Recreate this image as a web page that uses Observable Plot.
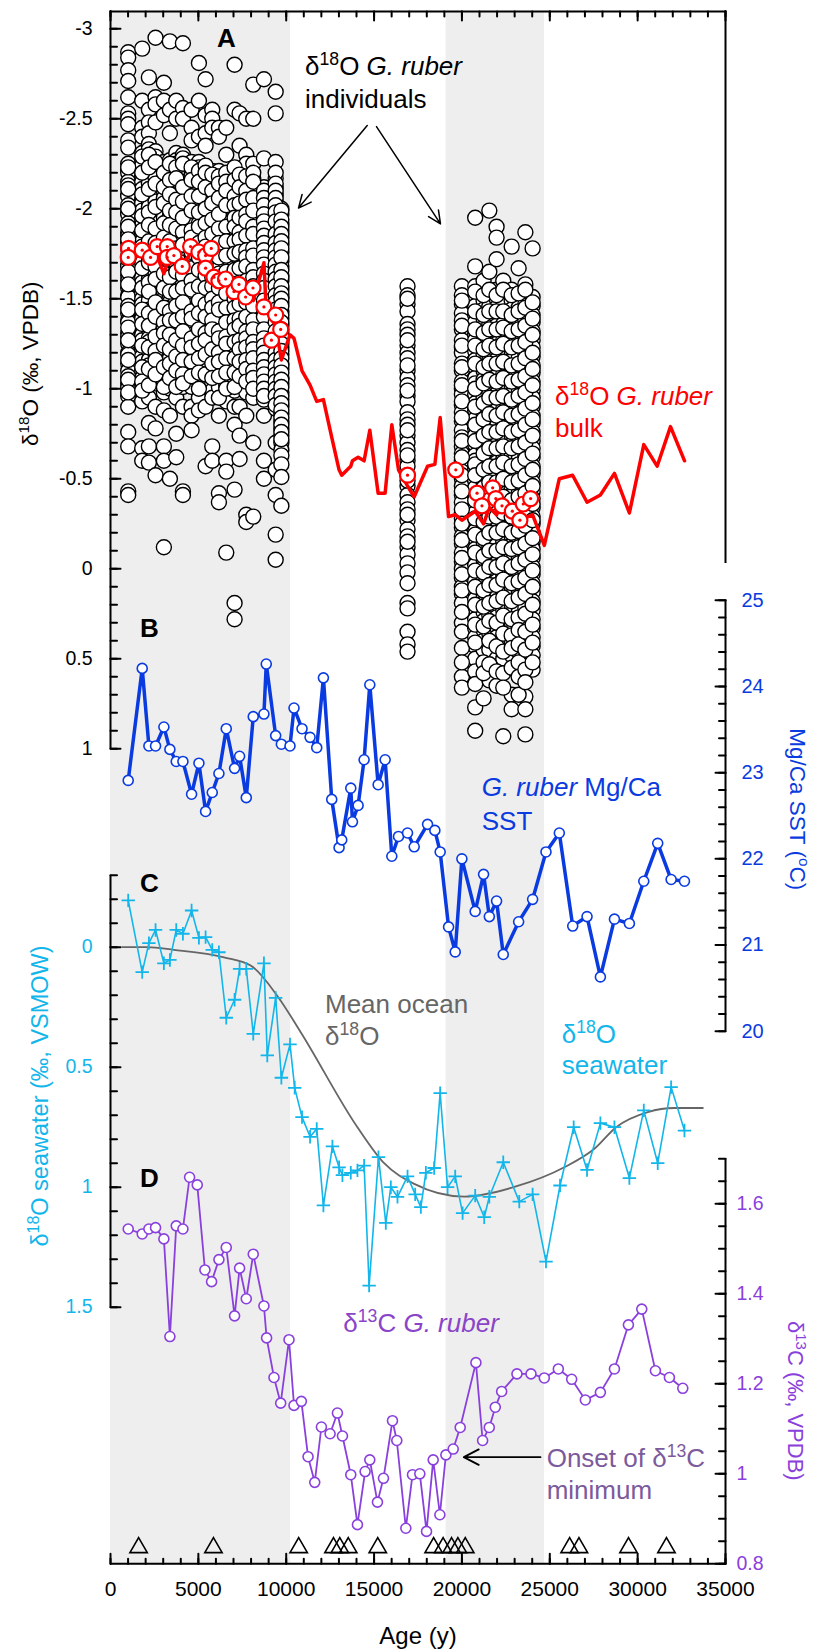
<!DOCTYPE html>
<html><head><meta charset="utf-8">
<script src="https://cdn.jsdelivr.net/npm/d3@7"></script>
<script src="https://cdn.jsdelivr.net/npm/@observablehq/plot@0.6"></script>
<style>
body{margin:0;background:#fff;}
#wrap{position:relative;width:816px;height:1652px;}
#wrap svg{position:absolute;left:0;top:0;overflow:visible;}
</style></head><body><div id="wrap"></div>
<script>
// ---------------- DATA ----------------
const shadeStart = [0, 19100];
const shadeEnd   = [10250, 24700];

const xTicks = [0, 5000, 10000, 15000, 20000, 25000, 30000, 35000];

// Panel A: bulk G. ruber d18O (red line)
const bulkAge = [1008,1805,2185,2564,3038,3380,3742,4121,4615,5032,5412,5791,6170,6588,7062,7347,7727,8124,8732,8865,9400,9724,10216,10444,10900,11357,11737,12117,12591,13008,13160,13674,13770,14091,14433,14757,15231,15630,16010,16391,16904,17284,18044,18460,18762,19240,19618,19998,20755,21232,21559,21972,22352,23227,24023,24690,25540,26300,27120,27880,28680,29530,30350,31110,31870,32670];
const bulkVal = [-1.73,-1.74,-1.72,-1.76,-1.64,-1.74,-1.72,-1.69,-1.76,-1.74,-1.66,-1.62,-1.60,-1.58,-1.55,-1.57,-1.52,-1.49,-1.70,-1.43,-1.35,-1.16,-1.30,-1.28,-1.10,-1.02,-0.93,-0.94,-0.73,-0.55,-0.52,-0.57,-0.60,-0.62,-0.60,-0.77,-0.42,-0.42,-0.80,-0.55,-0.46,-0.40,-0.57,-0.58,-0.84,-0.29,-0.30,-0.27,-0.32,-0.25,-0.34,-0.30,-0.37,-0.27,-0.30,-0.13,-0.50,-0.52,-0.37,-0.41,-0.53,-0.31,-0.69,-0.57,-0.79,-0.60];

// Panel A: mean of individuals (red open circles)
const meanAge = [1026,1008,1805,2279,2659,3228,3228,3608,4083,4558,5032,5412,5735,5412,5886,6170,6550,7025,7310,7689,8110,8732,9160,9400,9686,16904,19650,20860,21140,21750,21930,22280,22870,23300,23490,23910];
const meanVal = [-1.78,-1.73,-1.77,-1.73,-1.79,-1.79,-1.73,-1.74,-1.68,-1.79,-1.76,-1.74,-1.78,-1.67,-1.62,-1.60,-1.61,-1.54,-1.58,-1.51,-1.56,-1.455,-1.27,-1.41,-1.33,-0.52,-0.55,-0.42,-0.35,-0.45,-0.39,-0.35,-0.32,-0.27,-0.36,-0.39];

// Panel A: individual G. ruber d18O, values per sample age (two picking passes)
const indivAge = [1008,1805,2185,2564,3038,3380,3742,4121,4615,5032,5412,5791,6170,6588,7062,7347,7727,8124,8732,9400,9724,16904,19998,20755,21232,21559,21972,22352,22830,23227,23610,24023];
const indivVals = [
"-2.87 -2.84 -2.77 -2.71 -2.62 -2.53 -2.5 -2.47 -2.38 -2.34 -2.25 -2.22 -2.2 -2.15 -2.13 -2.08 -2.07 -2.02 -1.98 -1.97 -1.92 -1.87 -1.85 -1.81 -1.78 -1.74 -1.69 -1.68 -1.63 -1.6 -1.56 -1.52 -1.51 -1.46 -1.42 -1.38 -1.37 -1.31 -1.29 -1.25 -1.2 -1.19 -1.14 -1.1 -1.07 -1.03 -1.01 -0.96 -0.9 -0.76 -0.68 -0.43 -0.41",
"-2.89 -2.6 -2.45 -2.4 -2.31 -2.27 -2.24 -2.18 -2.15 -2.11 -2.05 -2.03 -1.99 -1.93 -1.91 -1.86 -1.82 -1.77 -1.75 -1.7 -1.65 -1.62 -1.59 -1.53 -1.5 -1.47 -1.41 -1.39 -1.34 -1.3 -1.27 -1.22 -1.18 -1.15 -1.1 -1.06 -1.02 -0.97 -0.93 -0.67 -0.6",
"-2.73 -2.55 -2.48 -2.42 -2.36 -2.33 -2.28 -2.26 -2.2 -2.16 -2.14 -2.09 -2.04 -2.01 -1.96 -1.94 -1.88 -1.84 -1.8 -1.77 -1.73 -1.67 -1.64 -1.61 -1.57 -1.52 -1.49 -1.44 -1.4 -1.37 -1.33 -1.28 -1.26 -1.21 -1.16 -1.13 -1.09 -1.05 -0.95 -0.81 -0.68 -0.59",
"-2.95 -2.62 -2.58 -2.48 -2.32 -2.29 -2.23 -2.19 -2.17 -2.11 -2.07 -2.04 -1.98 -1.95 -1.92 -1.86 -1.83 -1.79 -1.74 -1.71 -1.66 -1.64 -1.58 -1.55 -1.51 -1.46 -1.43 -1.38 -1.35 -1.32 -1.26 -1.23 -1.19 -1.14 -1.11 -1.06 -1.03 -0.9 -0.78 -0.52",
"-2.7 -2.6 -2.52 -2.26 -2.23 -2.18 -2.14 -2.1 -2.06 -2.01 -1.97 -1.95 -1.9 -1.86 -1.82 -1.79 -1.73 -1.7 -1.67 -1.61 -1.58 -1.54 -1.5 -1.47 -1.42 -1.39 -1.34 -1.29 -1.27 -1.22 -1.19 -1.15 -1.1 -1.06 -1.03 -0.98 -0.88 -0.68 -0.6 -0.12",
"-2.93 -2.55 -2.42 -2.27 -2.22 -2.19 -2.13 -2.1 -2.05 -2.02 -1.96 -1.93 -1.89 -1.85 -1.8 -1.78 -1.72 -1.69 -1.65 -1.6 -1.57 -1.52 -1.48 -1.45 -1.41 -1.36 -1.33 -1.28 -1.25 -1.2 -1.17 -1.12 -1.09 -1.04 -1 -0.85 -0.5",
"-2.6 -2.5 -2.31 -2.27 -2.25 -2.2 -2.15 -2.12 -2.08 -2.03 -2 -1.96 -1.92 -1.87 -1.83 -1.81 -1.75 -1.72 -1.68 -1.63 -1.6 -1.56 -1.52 -1.49 -1.43 -1.4 -1.36 -1.32 -1.29 -1.24 -1.21 -1.16 -1.12 -1.08 -1.04 -0.95 -0.75 -0.62",
"-2.92 -2.56 -2.5 -2.3 -2.28 -2.22 -2.18 -2.15 -2.1 -2.06 -2.01 -1.98 -1.93 -1.9 -1.85 -1.82 -1.78 -1.73 -1.7 -1.66 -1.61 -1.58 -1.53 -1.51 -1.46 -1.42 -1.38 -1.34 -1.3 -1.26 -1.22 -1.18 -1.14 -1.1 -1.06 -1.01 -0.9 -0.43 -0.41",
"-2.55 -2.45 -2.38 -2.26 -2.21 -2.18 -2.14 -2.09 -2.05 -2.02 -1.97 -1.93 -1.91 -1.86 -1.81 -1.78 -1.74 -1.7 -1.65 -1.62 -1.58 -1.53 -1.5 -1.46 -1.41 -1.37 -1.33 -1.3 -1.25 -1.21 -1.18 -1.13 -1.09 -1.05 -1.01 -0.9 -0.85 -0.77",
"-2.81 -2.6 -2.4 -2.26 -2.23 -2.17 -2.13 -2.1 -2.04 -2 -1.96 -1.92 -1.88 -1.83 -1.79 -1.76 -1.71 -1.68 -1.64 -1.59 -1.55 -1.51 -1.47 -1.44 -1.39 -1.35 -1.31 -1.27 -1.23 -1.19 -1.15 -1.11 -1.07 -1.04 -0.95 -0.88",
"-2.72 -2.52 -2.42 -2.35 -2.22 -2.18 -2.15 -2.09 -2.06 -2.03 -1.97 -1.94 -1.9 -1.86 -1.82 -1.77 -1.73 -1.7 -1.65 -1.61 -1.58 -1.54 -1.49 -1.45 -1.42 -1.37 -1.34 -1.29 -1.25 -1.22 -1.17 -1.13 -1.1 -1.05 -1.01 -0.9 -0.57",
"-2.55 -2.5 -2.45 -2.21 -2.17 -2.14 -2.08 -2.05 -2 -1.96 -1.92 -1.89 -1.83 -1.8 -1.76 -1.72 -1.67 -1.64 -1.6 -1.55 -1.52 -1.48 -1.43 -1.4 -1.36 -1.31 -1.28 -1.24 -1.19 -1.16 -1.11 -1.08 -1.03 -0.99 -0.95 -0.68 -0.6",
"-2.45 -2.4 -2.21 -2.16 -2.12 -2.08 -2.04 -1.99 -1.95 -1.91 -1.86 -1.83 -1.78 -1.75 -1.7 -1.67 -1.62 -1.58 -1.54 -1.5 -1.46 -1.42 -1.37 -1.34 -1.3 -1.26 -1.21 -1.18 -1.13 -1.1 -1.05 -1.01 -0.85 -0.42 -0.37",
"-2.45 -2.3 -2.17 -2.13 -2.08 -2.04 -2.01 -1.95 -1.92 -1.87 -1.84 -1.8 -1.76 -1.71 -1.68 -1.63 -1.59 -1.56 -1.51 -1.47 -1.44 -1.39 -1.35 -1.31 -1.27 -1.23 -1.19 -1.15 -1.11 -1.06 -1.02 -0.98 -0.93 -0.6 -0.54 -0.09",
"-2.8 -2.55 -2.21 -2.18 -2.13 -2.09 -2.05 -2 -1.97 -1.92 -1.88 -1.85 -1.8 -1.77 -1.72 -1.68 -1.64 -1.6 -1.56 -1.52 -1.48 -1.43 -1.4 -1.36 -1.31 -1.28 -1.24 -1.19 -1.15 -1.12 -1.07 -1.03 -0.99 -0.9 -0.8 -0.44 0.19 0.28",
"-2.53 -2.35 -2.22 -2.17 -2.14 -2.1 -2.05 -2.01 -1.98 -1.93 -1.89 -1.85 -1.81 -1.78 -1.73 -1.69 -1.65 -1.61 -1.57 -1.53 -1.49 -1.45 -1.41 -1.37 -1.33 -1.29 -1.25 -1.2 -1.17 -1.13 -1.09 -1.05 -0.9 -0.74 -0.61",
"-2.5 -2.3 -2.25 -2.16 -2.12 -2.08 -2.03 -2 -1.95 -1.91 -1.87 -1.83 -1.79 -1.75 -1.71 -1.66 -1.63 -1.58 -1.55 -1.5 -1.46 -1.42 -1.38 -1.34 -1.3 -1.26 -1.21 -1.18 -1.14 -1.09 -1.06 -1.01 -0.98 -0.85 -0.3 -0.26",
"-2.69 -2.5 -2.25 -2.17 -2.13 -2.09 -2.04 -2.01 -1.96 -1.93 -1.88 -1.84 -1.8 -1.76 -1.72 -1.68 -1.64 -1.6 -1.55 -1.52 -1.48 -1.44 -1.4 -1.36 -1.31 -1.28 -1.24 -1.2 -1.15 -1.12 -1.08 -1.04 -0.95 -0.7 -0.29",
"-2.72 -2.28 -2.12 -2.08 -2.04 -2 -1.95 -1.91 -1.87 -1.83 -1.79 -1.75 -1.71 -1.67 -1.62 -1.59 -1.54 -1.51 -1.46 -1.42 -1.38 -1.35 -1.3 -1.26 -1.22 -1.18 -1.14 -1.1 -1.06 -1.02 -0.98 -0.94 -0.85 -0.6 -0.5",
"-2.65 -2.53 -2.26 -2.17 -2.12 -2.08 -2.04 -2 -1.96 -1.91 -1.88 -1.83 -1.79 -1.75 -1.71 -1.67 -1.63 -1.59 -1.54 -1.5 -1.47 -1.42 -1.39 -1.34 -1.3 -1.27 -1.22 -1.18 -1.14 -1.1 -1.06 -1.02 -0.98 -0.94 -0.89 -0.7 -0.55 -0.41 -0.19 -0.05",
"-2 -1.97 -1.92 -1.88 -1.84 -1.8 -1.76 -1.71 -1.68 -1.63 -1.6 -1.55 -1.51 -1.48 -1.43 -1.39 -1.35 -1.31 -1.27 -1.23 -1.19 -1.14 -1.11 -1.06 -1.03 -0.98 -0.94 -0.9 -0.86 -0.82 -0.78 -0.74 -0.7 -0.66 -0.63 -0.58 -0.51 -0.35",
"-1.57 -1.52 -1.47 -1.43 -1.36 -1.33 -1.3 -1.24 -1.2 -1.17 -1.1 -1.06 -1.02 -0.96 -0.93 -0.87 -0.83 -0.8 -0.74 -0.7 -0.66 -0.6 -0.57 -0.52 -0.46 -0.41 -0.37 -0.33 -0.27 -0.22 -0.18 -0.12 -0.08 -0.03 0.02 0.08 0.19 0.22 0.35 0.42 0.46",
"-1.57 -1.52 -1.47 -1.42 -1.38 -1.33 -1.27 -1.23 -1.2 -1.14 -1.1 -1.04 -1 -0.97 -0.91 -0.87 -0.82 -0.77 -0.73 -0.68 -0.64 -0.6 -0.54 -0.5 -0.46 -0.41 -0.37 -0.31 -0.28 -0.23 -0.18 -0.14 -0.09 -0.04 0 0.05 0.1 0.14 0.19 0.3 0.35 0.6 0.66",
"-1.95 -1.68 -1.57 -1.51 -1.46 -1.41 -1.37 -1.3 -1.27 -1.21 -1.16 -1.12 -1.06 -1.03 -0.97 -0.92 -0.88 -0.83 -0.78 -0.74 -0.69 -0.63 -0.6 -0.55 -0.49 -0.45 -0.41 -0.35 -0.31 -0.26 -0.21 -0.17 -0.11 -0.07 -0.02 0.03 0.07 0.13 0.17 0.22 0.28 0.33 0.38 0.43 0.5 0.77 0.9",
"-1.6 -1.49 -1.44 -1.39 -1.34 -1.29 -1.25 -1.19 -1.14 -1.1 -1.05 -1.01 -0.95 -0.9 -0.86 -0.81 -0.76 -0.72 -0.67 -0.61 -0.58 -0.52 -0.48 -0.43 -0.39 -0.33 -0.29 -0.24 -0.19 -0.15 -0.1 -0.05 -0.01 0.05 0.09 0.14 0.19 0.24 0.29 0.34 0.4 0.45 0.72",
"-1.99 -1.65 -1.5 -1.46 -1.4 -1.36 -1.31 -1.26 -1.22 -1.16 -1.12 -1.07 -1.02 -0.98 -0.92 -0.88 -0.84 -0.78 -0.74 -0.69 -0.64 -0.6 -0.55 -0.5 -0.46 -0.4 -0.36 -0.32 -0.26 -0.22 -0.17 -0.12 -0.08 -0.03 0.02 0.06 0.12 0.16 0.21 0.26 0.31 0.36 0.45 0.62",
"-1.9 -1.84 -1.72 -1.55 -1.5 -1.45 -1.4 -1.35 -1.31 -1.25 -1.21 -1.16 -1.11 -1.07 -1.02 -0.97 -0.93 -0.88 -0.83 -0.79 -0.73 -0.69 -0.65 -0.59 -0.55 -0.51 -0.45 -0.41 -0.37 -0.31 -0.27 -0.22 -0.17 -0.13 -0.08 -0.03 0.01 0.07 0.11 0.16 0.21 0.27 0.32 0.38 0.5 0.65",
"-1.6 -1.51 -1.46 -1.41 -1.36 -1.32 -1.27 -1.22 -1.17 -1.13 -1.08 -1.03 -0.99 -0.94 -0.89 -0.85 -0.8 -0.75 -0.71 -0.66 -0.61 -0.57 -0.52 -0.47 -0.43 -0.38 -0.34 -0.29 -0.24 -0.2 -0.15 -0.1 -0.06 -0.01 0.04 0.08 0.13 0.18 0.23 0.28 0.33 0.38 0.43 0.5 0.93",
"-1.79 -1.55 -1.49 -1.44 -1.39 -1.35 -1.3 -1.25 -1.21 -1.16 -1.11 -1.06 -1.02 -0.97 -0.92 -0.87 -0.83 -0.78 -0.74 -0.69 -0.64 -0.59 -0.55 -0.5 -0.45 -0.41 -0.36 -0.31 -0.27 -0.22 -0.18 -0.13 -0.08 -0.04 0.01 0.06 0.1 0.15 0.2 0.25 0.3 0.35 0.4 0.48 0.7 0.78",
"-1.67 -1.5 -1.45 -1.41 -1.36 -1.31 -1.26 -1.22 -1.17 -1.12 -1.08 -1.03 -0.98 -0.94 -0.89 -0.84 -0.8 -0.75 -0.7 -0.66 -0.61 -0.56 -0.52 -0.47 -0.42 -0.38 -0.33 -0.28 -0.24 -0.19 -0.14 -0.1 -0.05 0 0.04 0.09 0.14 0.19 0.24 0.3 0.38 0.46",
"-1.87 -1.58 -1.52 -1.47 -1.42 -1.38 -1.33 -1.28 -1.24 -1.19 -1.14 -1.1 -1.05 -1 -0.96 -0.91 -0.86 -0.82 -0.77 -0.72 -0.68 -0.63 -0.58 -0.54 -0.49 -0.44 -0.4 -0.35 -0.3 -0.26 -0.21 -0.16 -0.12 -0.07 -0.02 0.02 0.07 0.12 0.17 0.22 0.27 0.32 0.37 0.42 0.5 0.71 0.78 0.92",
"-1.78 -1.51 -1.46 -1.41 -1.37 -1.32 -1.27 -1.23 -1.18 -1.13 -1.09 -1.04 -0.99 -0.95 -0.9 -0.85 -0.81 -0.76 -0.71 -0.67 -0.62 -0.57 -0.53 -0.48 -0.43 -0.39 -0.34 -0.29 -0.25 -0.2 -0.15 -0.11 -0.06 -0.01 0.03 0.08 0.13 0.18 0.23 0.28 0.33 0.38 0.43 0.48 0.56"
];
const indivValsMore = [
"-2.23 -2.11 -2.0 -1.9 -1.83 -1.72 -1.65 -1.58 -1.44 -1.34 -1.27 -1.16 -1.05 -0.98",
"-2.29 -2.2 -2.08 -1.96 -1.88 -1.79 -1.67 -1.56 -1.44 -1.36 -1.24 -1.12 -1.04 -0.99",
"-2.3 -2.23 -2.11 -1.98 -1.91 -1.82 -1.7 -1.59 -1.54 -1.42 -1.35 -1.23 -1.11 -1.02",
"-2.26 -2.14 -2.01 -1.89 -1.81 -1.76 -1.68 -1.61 -1.48 -1.4 -1.29 -1.21 -1.16 -1.08",
"-2.2 -2.12 -2.03 -1.92 -1.84 -1.76 -1.64 -1.56 -1.45 -1.37 -1.31 -1.24 -1.12 -1.01",
"-2.25 -2.16 -2.08 -1.99 -1.91 -1.82 -1.75 -1.62 -1.54 -1.43 -1.38 -1.3 -1.22 -1.14 -1.06",
"-2.23 -2.17 -2.05 -1.98 -1.89 -1.78 -1.7 -1.65 -1.54 -1.46 -1.38 -1.27 -1.18 -1.1 -1.01",
"-2.25 -2.12 -2.04 -1.95 -1.87 -1.8 -1.68 -1.63 -1.56 -1.48 -1.4 -1.32 -1.24 -1.16 -1.08 -1.03",
"-2.23 -2.16 -2.07 -1.99 -1.88 -1.84 -1.76 -1.67 -1.6 -1.55 -1.43 -1.39 -1.28 -1.23 -1.15 -1.07",
"-2.21 -2.15 -2.07 -1.98 -1.9 -1.81 -1.73 -1.66 -1.57 -1.49 -1.42 -1.33 -1.25 -1.17 -1.09 -1.0",
"-2.24 -2.2 -2.12 -2.0 -1.92 -1.84 -1.79 -1.68 -1.63 -1.56 -1.47 -1.4 -1.31 -1.27 -1.19 -1.08",
"-2.19 -2.1 -2.03 -1.94 -1.86 -1.78 -1.74 -1.62 -1.57 -1.5 -1.45 -1.38 -1.33 -1.22 -1.14 -1.06",
"-2.18 -2.14 -2.06 -1.97 -1.89 -1.81 -1.73 -1.64 -1.56 -1.48 -1.44 -1.32 -1.28 -1.2 -1.15 -1.07 -0.95",
"-2.2 -2.15 -2.1 -2.02 -1.9 -1.82 -1.74 -1.65 -1.61 -1.53 -1.45 -1.37 -1.29 -1.25 -1.17 -1.09 -1.0",
"-2.23 -2.16 -2.07 -2.02 -1.95 -1.9 -1.82 -1.75 -1.66 -1.58 -1.5 -1.45 -1.38 -1.33 -1.26 -1.17 -1.09 -1.01",
"-2.19 -2.12 -2.03 -1.95 -1.87 -1.83 -1.76 -1.67 -1.59 -1.55 -1.47 -1.39 -1.35 -1.27 -1.22 -1.15 -1.07",
"-2.18 -2.1 -2.05 -1.97 -1.93 -1.85 -1.77 -1.73 -1.68 -1.6 -1.52 -1.48 -1.4 -1.32 -1.28 -1.23 -1.16 -1.11 -1.04",
"-2.2 -2.15 -2.06 -1.99 -1.9 -1.86 -1.78 -1.74 -1.66 -1.62 -1.57 -1.5 -1.46 -1.38 -1.33 -1.26 -1.22 -1.17 -1.1 -1.06 -1.0",
"-2.1 -2.06 -2.02 -1.97 -1.93 -1.89 -1.85 -1.81 -1.77 -1.73 -1.69 -1.64 -1.6 -1.56 -1.49 -1.44 -1.4 -1.33 -1.28 -1.24 -1.2 -1.16 -1.12 -1.08 -1.04 -1.0 -0.96",
"-2.2 -2.14 -2.1 -2.06 -2.02 -1.98 -1.93 -1.86 -1.81 -1.77 -1.73 -1.69 -1.65 -1.61 -1.57 -1.52 -1.48 -1.44 -1.37 -1.32 -1.25 -1.2 -1.16 -1.12 -1.08 -1.04 -1.0 -0.96 -0.91",
"-1.99 -1.94 -1.9 -1.86 -1.82 -1.78 -1.73 -1.66 -1.62 -1.57 -1.53 -1.5 -1.46 -1.41 -1.37 -1.33 -1.29 -1.25 -1.21 -1.17 -1.13 -1.09 -1.05 -1.01 -0.96 -0.92 -0.88 -0.84 -0.8 -0.76 -0.72",
"-1.5 -1.27 -1.13 -0.99 -0.77 -0.63 -0.49 -0.3 -0.15",
"-1.49 -1.35 -1.24 -1.12 -1.02 -0.93 -0.84 -0.71 -0.62 -0.52 -0.43 -0.33 -0.25 -0.16 -0.06 0.03 0.12 0.24 0.44 0.52",
"-1.54 -1.43 -1.33 -1.24 -1.14 -1.0 -0.9 -0.8 -0.71 -0.58 -0.52 -0.38 -0.28 -0.19 -0.09 0.01 0.1 0.2 0.31 0.41 0.57 0.64",
"-1.52 -1.41 -1.31 -1.22 -1.12 -1.03 -0.92 -0.83 -0.74 -0.64 -0.55 -0.45 -0.36 -0.26 -0.17 -0.07 0.02 0.12 0.21 0.32 0.52 0.58",
"-1.55 -1.43 -1.33 -1.24 -1.14 -1.05 -0.95 -0.86 -0.76 -0.67 -0.57 -0.48 -0.38 -0.29 -0.2 -0.1 -0.01 0.09 0.19 0.29 0.4 0.53",
"-1.52 -1.43 -1.33 -1.23 -1.14 -1.04 -0.95 -0.85 -0.76 -0.67 -0.57 -0.48 -0.39 -0.29 -0.2 -0.1 -0.01 0.09 0.18 0.3 0.43 0.57",
"-1.55 -1.43 -1.34 -1.25 -1.15 -1.06 -0.96 -0.87 -0.78 -0.68 -0.59 -0.5 -0.4 -0.31 -0.22 -0.12 -0.03 0.06 0.16 0.26 0.36 0.46 0.58 0.66",
"-1.52 -1.41 -1.32 -1.23 -1.13 -1.04 -0.94 -0.85 -0.76 -0.67 -0.57 -0.48 -0.38 -0.29 -0.2 -0.11 -0.01 0.08 0.18 0.28 0.37 0.44 0.55",
"-1.53 -1.43 -1.33 -1.24 -1.14 -1.05 -0.96 -0.86 -0.77 -0.68 -0.58 -0.49 -0.4 -0.31 -0.21 -0.12 -0.03 0.07 0.16 0.27 0.34 0.42 0.52 0.6 0.7",
"-1.55 -1.45 -1.35 -1.26 -1.17 -1.07 -0.98 -0.89 -0.8 -0.7 -0.61 -0.52 -0.42 -0.33 -0.24 -0.14 -0.05 0.05 0.14 0.25 0.35 0.45 0.56 0.63",
"-1.48 -1.39 -1.3 -1.2 -1.11 -1.02 -0.92 -0.83 -0.74 -0.64 -0.55 -0.46 -0.36 -0.27 -0.17 -0.08 0.01 0.1 0.2 0.31 0.41 0.52"
];

// Panel B: Mg/Ca SST (deg C)
const sstAge = [1008,1805,2185,2564,3038,3380,3742,4121,4615,5032,5412,5791,6170,6588,7062,7347,7727,8124,8732,8865,9400,9724,10216,10444,10900,11357,11737,12117,12591,13008,13160,13674,13770,14091,14433,14757,15231,15630,16010,16391,16904,17284,18044,18460,18762,19240,19618,19998,20755,21232,21559,21972,22352,23227,24023,24784,25543,26305,27120,27880,28680,29530,30349,31143,31906,32665];
const sstVal = [22.91,24.21,23.31,23.31,23.53,23.27,23.13,23.13,22.75,23.11,22.55,22.77,22.99,23.51,23.05,23.19,22.71,23.65,23.68,24.26,23.43,23.33,23.31,23.75,23.51,23.41,23.29,24.10,22.69,22.13,22.22,22.82,22.43,22.62,23.15,24.02,22.86,23.15,22.03,22.26,22.30,22.14,22.40,22.33,22.08,21.21,20.92,22.00,21.39,21.82,21.33,21.51,20.89,21.27,21.53,22.08,22.30,21.22,21.33,20.63,21.30,21.25,21.74,22.18,21.76,21.74];

// Panel C: seawater d18O (cyan) and mean ocean d18O (grey)
const swAge = [1008,1805,2185,2564,3038,3380,3742,4121,4615,5032,5412,5791,6170,6588,7062,7347,7727,8124,8732,8922,9400,9724,10216,10482,10900,11357,11737,12117,12630,13008,13200,13674,14054,14433,14719,15250,15668,15953,16333,16904,17340,17662,17947,18420,18760,19183,19618,20038,20755,21270,21559,22352,23264,24023,24784,25583,26360,27120,27880,28680,29530,30349,31143,31906,32665];
const swVal = [-0.195,0.104,-0.017,-0.072,0.067,0.053,-0.072,-0.056,-0.153,-0.039,-0.042,0.011,0.021,0.294,0.219,0.090,0.090,0.361,0.067,0.451,0.211,0.544,0.405,0.586,0.708,0.79,0.757,1.076,0.83,0.917,0.95,0.94,0.93,0.91,1.41,0.875,1.149,1.0,1.04,0.955,1.03,1.083,0.94,0.92,0.608,1.0,0.955,1.108,1.035,1.125,1.04,0.896,1.06,1.03,1.31,0.993,0.75,0.928,0.733,0.75,0.962,0.68,0.90,0.583,0.764];
const meanOceanAge = [665,2090,3608,6456,7976,9497,10825,14054,15573,17284,20129,23075,25827,27538,28775,30577,32096,33712];
const meanOceanVal = [0,0,0.011,0.042,0.076,0.203,0.354,0.75,0.90,0.986,1.039,0.997,0.917,0.84,0.75,0.687,0.67,0.67];

// Panel D: d13C G. ruber
const d13Age = [1008,1805,2185,2564,3038,3380,3742,4121,4501,4938,5374,5753,6170,6588,7062,7347,7727,8124,8732,8884,9305,9685,10159,10444,10863,11243,11623,12003,12497,12914,13200,13674,14054,14490,14757,15193,15535,16048,16293,16808,17187,17604,17985,18365,18745,19087,19504,19902,20796,21178,21556,21898,22261,23132,23930,24689,25486,26246,27024,27880,28680,29475,30235,31011,31808,32569];
const d13Val = [1.544,1.533,1.544,1.547,1.522,1.305,1.551,1.544,1.659,1.642,1.453,1.427,1.476,1.503,1.351,1.457,1.389,1.488,1.373,1.302,1.214,1.157,1.298,1.152,1.161,1.038,0.981,1.104,1.089,1.135,1.084,0.998,0.887,1.005,1.031,0.937,0.99,1.118,1.074,0.879,0.998,1.0,0.872,1.031,0.909,1.042,1.055,1.103,1.247,1.074,1.103,1.148,1.183,1.222,1.222,1.213,1.233,1.21,1.164,1.181,1.233,1.331,1.366,1.229,1.214,1.19];

// Age control points (triangles)
const datingAge = [1600,5860,10710,12690,13050,13530,15210,18390,18930,19410,19770,20190,26130,26660,29480,31640];

// ---------------- DRAWING ----------------
const FONT = "'Liberation Sans', Arial, Helvetica, sans-serif";
const BLUE = "#0a3be0", CYAN = "#12b6ea", PURPLE = "#8a40dc", GREY = "#666666", RED = "#ff0000";
const wrap = document.getElementById("wrap");

function layer(yDomain, yRange, marks) {
  const p = Plot.plot({
    width: 816, height: 1652, marginLeft: 110, marginRight: 91, marginTop: 0, marginBottom: 0,
    style: {background: "transparent", overflow: "visible", fontFamily: FONT},
    x: {domain: [0, 35000], axis: null},
    y: {domain: yDomain, range: yRange, axis: null},
    marks
  });
  wrap.appendChild(p);
  return p;
}
const tickShape = {draw(ctx, l) { ctx.moveTo(0, 0); ctx.lineTo(0, -l); }};
function vTicks(vals, xv, rot, len) {
  return Plot.vector(vals, {x: xv, y: d => d, rotate: rot, length: len, anchor: "start", shape: tickShape, stroke: "black", strokeWidth: 2});
}
function hTicks(vals, yv, rot, len) {
  return Plot.vector(vals, {x: d => d, y: yv, rotate: rot, length: len, anchor: "start", shape: tickShape, stroke: "black", strokeWidth: 2});
}
const rng = (a, b, s) => d3.range(Math.round((b - a) / s) + 1).map(i => +(a + i * s).toFixed(4));

function rich(plot, {x, y, px, py, parts, size, fill = "black", anchor = "start", weight = null, rotate = 0}) {
  const X = px ?? plot.scale("x").apply(x);
  const Y = py ?? plot.scale("y").apply(y);
  const t = d3.select(plot).append("text")
    .attr("x", X).attr("y", Y).attr("font-size", size).attr("fill", fill)
    .attr("font-family", FONT).attr("text-anchor", anchor);
  if (weight) t.attr("font-weight", weight);
  if (rotate) t.attr("transform", `rotate(${rotate},${X},${Y})`);
  let up = false;
  for (const p of parts) {
    const [s, kind] = Array.isArray(p) ? p : [p, ""];
    const ts = t.append("tspan").text(s);
    if (kind === "sup") { ts.attr("font-size", size * 0.68).attr("dy", -size * 0.38); up = true; }
    else {
      if (up) { ts.attr("dy", size * 0.38); up = false; }
      if (kind === "it") ts.attr("font-style", "italic");
    }
  }
  return t;
}

// background layer: shading, age axes
const bands = shadeStart.map((s, i) => ({x1: s, x2: shadeEnd[i]}));
const bg = layer([0, 1], [1563.3, 11], [
  Plot.rect(bands, {x1: "x1", x2: "x2", y1: 0, y2: 1, fill: "#eeeeee"}),
  Plot.ruleY([1], {x1: 0, x2: 35000, stroke: "black", strokeWidth: 2}),
  Plot.ruleY([0], {x1: 0, x2: 35000, stroke: "black", strokeWidth: 2}),
  hTicks(rng(0, 35000, 1000), 1, 180, 5),
  hTicks(xTicks, 1, 180, 9),
  hTicks(rng(0, 35000, 1000), 0, 0, 5),
  hTicks(xTicks, 0, 0, 10),
  Plot.text(xTicks, {x: d => d, y: 0, text: d => String(d), dy: 32, lineAnchor: "bottom", textAnchor: "middle", fontSize: 21, fontFamily: FONT, fill: "black"}),
  Plot.text(["Age (y)"], {x: 17500, y: 0, dy: 80, lineAnchor: "bottom", textAnchor: "middle", fontSize: 24, fontFamily: FONT, fill: "black"})
]);

// Panel A
const toPts = (arr) => indivAge.flatMap((a, i) => arr[i].split(" ").map(Number).map(v => ({age: a, v})));
const indiv = toPts(indivVals).concat(toPts(indivValsMore));
const bulk = bulkAge.map((a, i) => ({age: a, v: bulkVal[i]}));
const means = meanAge.map((a, i) => ({age: a, v: meanVal[i]}));
const aMajor = [-3, -2.5, -2, -1.5, -1, -0.5, 0, 0.5, 1];
const A = layer([-3, 1], [28.3, 748.3], [
  Plot.ruleX([0], {y1: -3.1, y2: 1, stroke: "black", strokeWidth: 2}),
  Plot.ruleX([35000], {y1: -3.1, y2: -0.03, stroke: "black", strokeWidth: 2}),
  vTicks(rng(-3, 1, 0.1), 0, 90, 6.5),
  vTicks(aMajor, 0, 90, 10),
  Plot.text(aMajor, {x: 0, y: d => d, text: d => String(d), dx: -18, textAnchor: "end", fontSize: 19.5, fontFamily: FONT, fill: "black"}),
  Plot.dot(indiv, {x: "age", y: "v", r: 7.5, fill: "white", stroke: "black", strokeWidth: 1.4}),
  Plot.line(bulk, {x: "age", y: "v", stroke: RED, strokeWidth: 3.5}),
  Plot.dot(means, {x: "age", y: "v", r: 7.5, fill: "white", stroke: RED, strokeWidth: 2.2}),
  Plot.dot(means, {x: "age", y: "v", r: 1.6, fill: RED}),
  Plot.arrow([{x1: 14610, y1: -2.463, x2: 10699, y2: -2.004}, {x1: 15138, y1: -2.457, x2: 18780, y2: -1.916}],
    {x1: "x1", y1: "y1", x2: "x2", y2: "y2", stroke: "black", strokeWidth: 1.5, headLength: 14, headAngle: 50})
]);
rich(A, {x: 6089, y: -2.896, parts: ["A"], size: 26, weight: "bold"});
rich(A, {x: 11098, y: -2.74, parts: ["δ", ["18", "sup"], "O ", ["G. ruber", "it"]], size: 26});
rich(A, {x: 11098, y: -2.56, parts: ["individuals"], size: 26});
rich(A, {x: 25326, y: -0.907, parts: ["δ", ["18", "sup"], "O ", ["G. ruber", "it"]], size: 26, fill: RED});
rich(A, {x: 25326, y: -0.731, parts: ["bulk"], size: 26, fill: RED});
rich(A, {px: A.scale("x").apply(0) - 72, y: -1.136, parts: ["δ", ["18", "sup"], "O (‰, VPDB)"], size: 22.5, anchor: "middle", rotate: -90});

// Panel B
const sst = sstAge.map((a, i) => ({age: a, v: sstVal[i]}));
const bMajor = [20, 21, 22, 23, 24, 25];
const B = layer([20, 25], [1030.7, 599.8], [
  Plot.ruleX([35000], {y1: 20, y2: 25, stroke: "black", strokeWidth: 2}),
  vTicks(rng(20, 25, 0.2), 35000, 270, 6.5),
  vTicks(bMajor, 35000, 270, 10),
  Plot.text(bMajor, {x: 35000, y: d => d, text: d => String(d), dx: 16, textAnchor: "start", fontSize: 20, fontFamily: FONT, fill: BLUE}),
  Plot.line(sst, {x: "age", y: "v", stroke: BLUE, strokeWidth: 3.5}),
  Plot.dot(sst, {x: "age", y: "v", r: 5, fill: "white", stroke: BLUE, strokeWidth: 1.6})
]);
rich(B, {x: 1707, y: 24.57, parts: ["B"], size: 26, weight: "bold"});
rich(B, {x: 21154, y: 22.72, parts: [["G. ruber", "it"], " Mg/Ca"], size: 26, fill: BLUE});
rich(B, {x: 21154, y: 22.33, parts: ["SST"], size: 26, fill: BLUE});
rich(B, {px: B.scale("x").apply(35000) + 65, y: 22.57, parts: ["Mg/Ca SST (", ["o", "sup"], "C)"], size: 22.5, fill: BLUE, anchor: "middle", rotate: 90});

// Panel C
const sw = swAge.map((a, i) => ({age: a, v: swVal[i]}));
const mo = meanOceanAge.map((a, i) => ({age: a, v: meanOceanVal[i]}));
const cMajor = [0, 0.5, 1, 1.5];
const C = layer([-0.3, 1.5], [874.7, 1306.7], [
  Plot.ruleX([0], {y1: -0.3, y2: 1.5, stroke: "black", strokeWidth: 2}),
  vTicks(rng(-0.3, 1.5, 0.1), 0, 90, 6.5),
  vTicks(cMajor, 0, 90, 10),
  Plot.text(cMajor, {x: 0, y: d => d, text: d => String(d), dx: -18, textAnchor: "end", fontSize: 19.5, fontFamily: FONT, fill: CYAN}),
  Plot.line(mo, {x: "age", y: "v", stroke: GREY, strokeWidth: 1.8, curve: "monotone-x"}),
  Plot.line(sw, {x: "age", y: "v", stroke: CYAN, strokeWidth: 1.6}),
  Plot.dot(sw, {x: "age", y: "v", symbol: "plus", r: 4.4, stroke: CYAN, strokeWidth: 1.8})
]);
rich(C, {x: 1707, y: -0.228, parts: ["C"], size: 26, weight: "bold"});
rich(C, {x: 12236, y: 0.2775, parts: ["Mean ocean"], size: 26, fill: GREY});
rich(C, {x: 12236, y: 0.41, parts: ["δ", ["18", "sup"], "O"], size: 26, fill: GREY});
rich(C, {x: 25706, y: 0.4025, parts: ["δ", ["18", "sup"], "O"], size: 26, fill: CYAN});
rich(C, {x: 25706, y: 0.53, parts: ["seawater"], size: 26, fill: CYAN});
rich(C, {px: C.scale("x").apply(0) - 62, y: 0.622, parts: ["δ", ["18", "sup"], "O seawater (‰, VSMOW)"], size: 23.5, fill: CYAN, anchor: "middle", rotate: -90});

// Panel D
const d13 = d13Age.map((a, i) => ({age: a, v: d13Val[i]}));
const dMajor = [0.8, 1, 1.2, 1.4, 1.6];
const D = layer([0.8, 1.7], [1563.3, 1158.3], [
  Plot.ruleX([35000], {y1: 0.8, y2: 1.7, stroke: "black", strokeWidth: 2}),
  vTicks(rng(0.8, 1.7, 0.05), 35000, 270, 6.5),
  vTicks(dMajor, 35000, 270, 10),
  Plot.text(dMajor, {x: 35000, y: d => d, text: d => String(d), dx: 11, textAnchor: "start", fontSize: 19.5, fontFamily: FONT, fill: PURPLE}),
  Plot.line(d13, {x: "age", y: "v", stroke: PURPLE, strokeWidth: 1.8}),
  Plot.dot(d13, {x: "age", y: "v", r: 5, fill: "white", stroke: PURPLE, strokeWidth: 1.6}),
  Plot.dot(datingAge, {x: d => d, y: 0.836, symbol: "triangle2", r: 8.3, stroke: "black", strokeWidth: 1.6}),
  Plot.arrow([{x1: 24471, y1: 1.037, x2: 20107, y2: 1.037}], {x1: "x1", y1: "y1", x2: "x2", y2: "y2", stroke: "black", strokeWidth: 1.8, headLength: 14, headAngle: 55})
]);
rich(D, {x: 1707, y: 1.636, parts: ["D"], size: 26, weight: "bold"});
rich(D, {x: 13277, y: 1.315, parts: ["δ", ["13", "sup"], "C ", ["G. ruber", "it"]], size: 26, fill: "#8a44c8"});
rich(D, {x: 24853, y: 1.015, parts: ["Onset of δ", ["13", "sup"], "C"], size: 26, fill: "#7c5a9c"});
rich(D, {x: 24853, y: 0.944, parts: ["minimum"], size: 26, fill: "#7c5a9c"});
rich(D, {px: D.scale("x").apply(35000) + 63, y: 1.161, parts: ["δ", ["13", "sup"], "C (‰, VPDB)"], size: 22, fill: PURPLE, anchor: "middle", rotate: 90});
</script></body></html>
